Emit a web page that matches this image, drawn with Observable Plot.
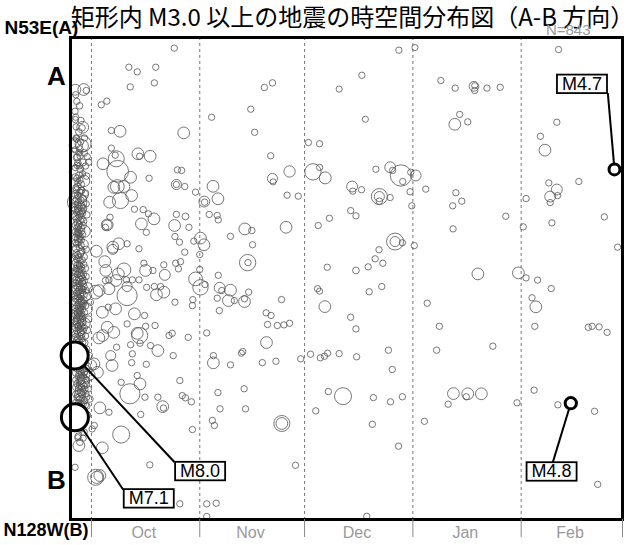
<!DOCTYPE html>
<html>
<head>
<meta charset="utf-8">
<script src="https://cdn.jsdelivr.net/npm/d3@7"></script>
<script src="https://cdn.jsdelivr.net/npm/@observablehq/plot@0.6"></script>
<style>
  html, body { margin: 0; padding: 0; background: #fff; }
</style>
</head>
<body>
<div id="chart"></div>
<script>
// Time axis: days counted from 2003-09-25 00:00
const startMs = Date.UTC(2003, 8, 25);
const toDate = d => new Date(startMs + d * 864e5);

const monthStarts = ["2003-10-01", "2003-11-01", "2003-12-01", "2004-01-01", "2004-02-01", "2004-03-01"];
const monthMids = ["2003-10-16", "2003-11-15T12:00Z", "2003-12-16", "2004-01-16", "2004-02-15"];
const monthLabels = ["Oct", "Nov", "Dec", "Jan", "Feb"];

const title = "矩形内 M3.0 以上の地震の時空間分布図（A-B 方向）";
const countLabel = "N=843";
const endA = "N53E(A)", endB = "N128W(B)";

// Events: [days since 2003-09-25, distance from A (km), magnitude]
const quakes = [
  // Nov – Feb scatter
  [94.0, 6.3, 3.2], [98.6, 5.0, 3.1], [83.4, 18.8, 3.2], [76.9, 25.7, 3.1], [57.8, 22.6, 3.3],
  [55.5, 24.9, 3.2], [40.4, 39.7, 3.2], [51.6, 35.7, 3.2], [84.4, 40.7, 3.1], [52.7, 47.2, 3.2],
  [68.1, 52.3, 3.2], [71.3, 52.9, 3.2], [57.3, 58.9, 3.2], [62.7, 66.7, 4.8], [57.8, 70.2, 4.5],
  [58.0, 71.9, 3.1], [69.4, 66.9, 5.75], [72.9, 69.9, 4.95], [71.3, 64.7, 3.2], [40.8, 74.1, 4.9],
  [42.2, 80.3, 4.9], [38.3, 81.7, 4.7], [38.4, 82.0, 3.3], [35.8, 77.0, 3.2], [62.0, 78.5, 3.2],
  [65.2, 79.0, 3.2], [80.6, 74.2, 4.7], [80.8, 76.5, 3.2], [83.3, 75.8, 3.2], [87.4, 65.6, 3.2],
  [91.5, 64.6, 4.7], [92.2, 66.2, 3.2], [94.6, 68.7, 6.45], [95.1, 71.7, 3.2], [98.8, 68.7, 4.7],
  [97.2, 76.8, 3.2], [97.7, 83.8, 3.2], [88.4, 79.2, 5.7], [88.4, 79.2, 4.5], [88.4, 81.5, 3.3],
  [91.5, 79.7, 3.2], [80.2, 86.2, 3.2], [81.7, 88.8, 3.2], [74.1, 90.0, 3.2], [70.9, 93.6, 3.2],
  [39.7, 88.1, 3.2], [42.0, 88.6, 3.2], [42.3, 90.8, 3.2], [49.9, 95.3, 4.9], [51.9, 96.1, 3.3],
  [61.7, 94.5, 4.9], [45.8, 99.0, 3.2], [37.2, 99.9, 4.9], [38.2, 103.2, 4.9], [37.0, 108.1, 3.2],
  [52.1, 103.2, 3.2], [50.7, 112.1, 5.75], [50.8, 112.1, 3.2], [37.0, 115.5, 3.2], [42.3, 118.4, 3.2],
  [92.9, 101.6, 5.85], [92.9, 101.6, 4.5], [95.0, 102.2, 3.2], [98.4, 103.6, 3.2], [88.3, 105.7, 3.2],
  [87.2, 110.2, 3.2], [89.4, 112.4, 3.2], [85.2, 114.2, 3.2], [81.7, 116.0, 3.4], [73.5, 114.4, 3.2],
  [37.2, 124.4, 5.6], [38.5, 123.0, 3.2], [42.7, 124.6, 4.7], [43.3, 126.0, 3.2], [45.8, 125.8, 4.9],
  [45.2, 131.0, 4.9], [46.9, 131.0, 3.2], [49.8, 131.5, 4.9], [49.8, 130.1, 3.2], [51.0, 126.8, 3.2],
  [42.0, 129.8, 3.2], [42.6, 136.0, 3.2], [60.4, 130.5, 3.2], [56.0, 137.1, 3.2], [57.4, 138.4, 3.2],
  [56.4, 142.9, 3.2], [59.2, 143.4, 3.2], [61.1, 143.1, 3.2], [62.7, 142.3, 3.2], [39.0, 147.1, 3.2],
  [56.1, 151.9, 4.9], [40.9, 158.4, 3.2], [40.9, 162.0, 4.9], [45.8, 163.0, 3.2], [49.3, 156.4, 3.2],
  [48.9, 157.2, 3.1], [54.9, 161.9, 3.2], [58.8, 161.2, 3.2], [65.9, 160.0, 3.2], [68.7, 157.7, 3.2],
  [71.5, 159.5, 3.2], [72.7, 158.7, 3.2], [73.6, 157.2, 3.2], [76.9, 157.4, 3.2], [81.9, 159.0, 3.2],
  [70.7, 125.1, 3.2], [71.3, 126.3, 3.1], [72.8, 134.0, 4.9], [85.5, 126.6, 3.2], [89.1, 124.0, 3.2],
  [80.2, 139.3, 3.2], [81.7, 145.1, 3.2], [91.0, 155.7, 3.2], [92.1, 165.3, 3.2], [42.2, 176.8, 3.2],
  [49.7, 174.9, 3.2], [42.8, 184.9, 3.2], [50.1, 184.9, 3.2], [40.6, 190.7, 3.2], [41.2, 193.2, 3.2],
  [60.5, 192.2, 5.7], [60.5, 192.2, 4.9], [73.8, 176.3, 3.2], [78.0, 178.6, 5.85], [70.2, 185.9, 3.2],
  [86.7, 179.3, 3.2], [91.6, 181.4, 3.2], [95.0, 178.9, 3.2], [86.4, 192.6, 3.2], [93.9, 203.5, 3.2],
  [64.4, 213.0, 3.2], [39.0, 232.2, 3.2], [41.7, 231.9, 3.2], [39.0, 238.5, 3.2], [84.8, 238.4, 3.2],
  [139.7, 6.0, 3.2], [106.0, 21.4, 3.2], [110.1, 25.2, 3.2], [115.5, 24.3, 4.4], [115.7, 24.0, 3.1],
  [115.7, 26.4, 3.2], [119.2, 25.2, 3.2], [123.0, 24.8, 3.2], [111.4, 38.3, 3.2], [110.0, 43.2, 4.9],
  [113.7, 42.0, 3.2], [139.2, 42.2, 3.2], [134.5, 49.2, 3.2], [135.8, 56.1, 4.9], [97.4, 67.1, 3.2],
  [101.7, 75.5, 3.2], [110.3, 77.3, 3.2], [112.0, 81.5, 3.2], [109.4, 83.8, 3.2], [124.6, 89.0, 3.2],
  [109.5, 95.3, 3.2], [130.4, 80.2, 3.2], [136.9, 72.4, 3.2], [139.2, 75.7, 4.7], [137.3, 79.2, 4.7],
  [139.4, 78.7, 3.2], [137.3, 82.2, 3.2], [145.5, 71.7, 3.2], [152.8, 89.3, 3.2], [137.8, 92.3, 3.2],
  [129.6, 94.3, 3.2], [156.6, 104.4, 3.2], [116.6, 117.7, 4.9], [128.2, 117.2, 4.9], [130.4, 119.7, 3.2],
  [133.7, 120.8, 3.2], [137.6, 125.0, 3.2], [102.1, 132.3, 3.2], [132.1, 129.6, 3.2], [133.2, 134.1, 4.9],
  [132.9, 143.8, 3.2], [105.6, 143.8, 3.2], [148.2, 144.3, 3.2], [149.3, 143.8, 3.2], [151.3, 144.1, 3.2],
  [153.6, 146.8, 3.2], [120.9, 153.7, 3.2], [104.8, 155.7, 3.2], [109.6, 177.3, 4.9], [113.7, 177.4, 4.9],
  [113.3, 178.9, 3.2], [117.6, 177.4, 4.9], [108.1, 182.6, 3.2], [101.3, 191.1, 3.2], [127.8, 181.9, 3.2],
  [132.7, 175.6, 3.2], [139.5, 182.9, 3.2], [150.0, 186.1, 3.2], [150.9, 222.5, 3.2],
  // October, away from the main column
  [29.7, 5.3, 3.2], [16.7, 14.8, 3.2], [19.1, 17.1, 3.2], [24.4, 14.8, 3.2], [24.0, 22.6, 3.2],
  [17.1, 24.6, 3.2], [1.4, 26.0, 4.7], [3.8, 25.9, 4.9], [4.5, 26.4, 3.2], [8.8, 33.5, 3.2],
  [10.4, 31.7, 3.2], [1.3, 36.7, 3.2], [1.5, 39.7, 3.2], [3.5, 44.7, 4.9], [11.7, 46.3, 3.2],
  [14.2, 46.7, 4.9], [32.4, 47.5, 4.9], [1.3, 52.6, 4.7], [3.6, 52.9, 5.7], [1.6, 50.0, 3.2],
  [4.0, 50.0, 3.2], [2.7, 55.4, 3.2], [11.7, 55.1, 3.2], [19.3, 57.9, 4.9], [19.8, 59.1, 3.2],
  [22.8, 59.1, 4.9], [13.1, 60.4, 5.7], [9.3, 62.9, 4.9], [13.5, 66.6, 6.5], [12.8, 58.6, 3.2],
  [17.2, 69.6, 4.9], [22.5, 70.1, 3.2], [30.6, 65.9, 3.2], [31.8, 66.2, 3.2], [30.3, 73.2, 4.5],
  [30.3, 73.2, 3.2], [13.4, 74.2, 5.3], [1.9, 59.6, 3.2], [1.9, 63.7, 3.2], [4.8, 59.3, 3.2],
  [5.2, 62.1, 3.2], [32.7, 74.2, 3.2], [12.4, 74.6, 4.9], [15.3, 74.2, 4.9], [14.3, 81.2, 5.7],
  [17.5, 78.7, 4.9], [18.3, 85.5, 3.2], [20.8, 85.7, 3.2], [11.2, 82.0, 4.9], [10.5, 93.3, 4.9],
  [10.5, 93.3, 4.4], [10.0, 94.5, 3.2], [11.3, 89.5, 3.2], [20.3, 92.8, 4.9], [23.9, 90.3, 4.9],
  [22.3, 87.8, 3.2], [21.7, 97.0, 3.2], [29.8, 93.6, 4.9], [30.3, 88.1, 3.2], [32.9, 89.1, 3.4],
  [33.9, 94.5, 3.2], [29.9, 99.1, 3.2], [31.2, 101.9, 3.2], [35.3, 101.4, 3.2], [32.7, 106.9, 3.2],
  [12.1, 104.4, 4.9], [12.1, 105.5, 4.5], [13.8, 102.7, 4.9], [7.4, 106.4, 4.9], [9.8, 111.6, 4.9],
  [16.2, 102.7, 3.2], [19.6, 105.2, 3.2], [21.0, 112.4, 3.2], [21.5, 116.0, 4.9], [23.6, 116.0, 3.2],
  [15.3, 115.7, 5.3], [13.7, 117.7, 4.9], [26.7, 113.2, 3.2], [30.1, 112.4, 3.2], [31.5, 111.6, 3.2],
  [30.9, 115.2, 3.2], [27.0, 118.2, 4.7], [19.6, 120.7, 3.2], [17.7, 120.7, 3.2], [16.0, 120.7, 3.2],
  [11.0, 120.7, 3.2], [35.8, 120.2, 5.3], [21.8, 124.4, 3.2], [24.0, 124.0, 3.2], [25.8, 124.0, 3.2],
  [24.6, 128.1, 4.9], [26.7, 126.8, 4.9], [16.2, 124.0, 4.5], [16.2, 128.5, 6.3], [35.0, 130.5, 3.2],
  [34.9, 133.5, 3.2], [29.9, 131.8, 3.2], [10.0, 121.0, 3.2], [11.0, 125.1, 4.9], [7.2, 126.8, 5.3],
  [10.8, 134.3, 3.2], [9.1, 136.8, 4.9], [12.9, 135.1, 4.9], [18.3, 137.6, 4.9], [21.2, 138.4, 3.2],
  [16.2, 142.6, 3.2], [21.5, 143.8, 3.2], [24.2, 143.4, 3.2], [29.1, 147.3, 3.2], [19.1, 147.3, 4.9],
  [19.8, 148.4, 5.7], [12.4, 146.8, 4.9], [10.5, 144.3, 4.9], [33.7, 149.3, 3.2], [8.1, 149.6, 4.9],
  [17.2, 153.0, 3.2], [19.9, 152.2, 3.2], [22.9, 153.4, 3.2], [25.0, 155.9, 4.9], [28.2, 148.4, 3.2],
  [13.2, 154.2, 3.2], [11.5, 158.4, 4.5], [17.7, 157.5, 3.2], [29.4, 158.4, 3.2], [11.9, 163.3, 4.9],
  [17.5, 161.9, 3.2], [21.7, 162.7, 3.2], [6.7, 162.5, 4.9], [19.1, 168.3, 3.2], [19.9, 172.5, 4.9],
  [14.5, 171.7, 3.2], [17.0, 177.4, 6.3], [31.3, 170.8, 3.2], [32.0, 178.3, 3.2], [32.9, 179.4, 3.2],
  [21.3, 179.1, 3.2], [25.0, 179.1, 3.2], [26.4, 183.8, 4.9], [26.6, 184.5, 3.2], [34.6, 181.4, 3.2],
  [20.1, 187.7, 3.2], [11.0, 186.6, 3.2], [8.4, 184.4, 4.9], [34.9, 195.2, 3.2], [14.5, 197.7, 5.85],
  [9.1, 204.3, 4.9], [2.4, 203.2, 4.9], [2.1, 199.3, 3.2], [6.2, 194.9, 3.2], [7.2, 219.0, 5.7],
  [7.5, 219.0, 5.0], [8.4, 218.1, 4.9], [1.3, 214.0, 3.2], [22.7, 212.8, 3.2], [31.3, 232.2, 3.2],
  [8.2, 126.0, 4.9], [10.1, 116.0, 4.9], [13.0, 121.0, 4.9], [9.2, 148.4, 4.9], [7.7, 166.7, 4.9],
  [5.8, 163.3, 4.9], [6.8, 193.2, 3.2],
  // Aftershock column, first days after the M8.0 shock
  [1.75, 50.5, 3.4], [1.5, 53.8, 5.2], [3.3, 54.0, 5.1], [2.45, 57.3, 3.3], [1.8, 59.8, 3.6],
  [2.75, 59.0, 3.2], [2.1, 62.4, 3.3], [3.55, 62.2, 3.5], [2.55, 63.9, 3.1],
  [1.6, 67.0, 5.3], [2.45, 68.6, 3.4], [3.45, 67.8, 3.2], [2.15, 72.4, 3.3], [3.0, 73.1, 3.6],
  [1.55, 74.8, 3.2], [3.9, 71.4, 4.8], [1.9, 70.2, 3.5], [3.1, 76.0, 3.2],
  [1.6, 75.9, 3.3], [2.05, 74.3, 3.5], [2.65, 77.0, 3.2], [3.15, 76.2, 3.4], [1.8, 80.5, 3.6],
  [2.35, 79.4, 3.2], [3.0, 81.0, 3.3], [3.65, 80.3, 3.5], [1.5, 83.3, 3.2], [2.05, 83.0, 3.4],
  [2.55, 84.3, 3.1], [3.1, 83.6, 3.6], [3.75, 85.0, 3.3], [1.8, 87.0, 3.3], [2.4, 86.6, 3.5],
  [2.85, 88.0, 3.2], [3.4, 87.5, 3.4], [1.6, 90.3, 3.2], [2.2, 89.7, 3.3], [2.75, 91.0, 3.5],
  [3.3, 90.6, 3.2], [1.9, 92.3, 3.4], [2.55, 92.8, 3.2], [1.9, 82.0, 6.2], [2.8, 85.5, 4.9],
  [3.55, 78.3, 4.7],
  [1.9, 94.8, 3.3], [2.45, 95.9, 3.2], [3.0, 94.8, 3.5], [1.8, 98.0, 3.2], [2.35, 97.6, 3.4],
  [2.8, 99.2, 3.2], [3.4, 98.0, 3.3], [2.1, 100.3, 3.6], [2.65, 100.6, 3.2], [4.0, 96.5, 4.9],
  [1.85, 102.8, 3.3], [2.55, 104.5, 3.2], [2.1, 106.6, 5.2], [2.8, 107.6, 3.4], [1.6, 107.2, 3.2],
  [3.65, 103.0, 4.5],
  [1.85, 110.4, 3.3], [2.35, 109.6, 3.5], [2.8, 111.4, 3.2], [3.35, 110.8, 3.3], [1.95, 113.3, 3.4],
  [2.45, 112.8, 3.2], [3.0, 114.3, 3.6], [1.6, 115.0, 3.2], [2.2, 115.5, 3.5], [2.7, 115.2, 3.3],
  [1.5, 117.4, 3.3], [1.95, 118.0, 3.2], [2.5, 117.3, 3.5], [3.05, 118.6, 3.4], [3.7, 117.8, 3.2],
  [4.45, 119.0, 3.3], [1.7, 120.6, 3.6], [2.2, 121.0, 3.3], [2.75, 120.3, 3.2], [3.35, 121.6, 3.4],
  [4.0, 121.0, 3.2], [1.5, 123.6, 3.2], [2.05, 124.4, 3.5], [2.55, 123.8, 3.3], [3.15, 124.8, 3.2],
  [3.75, 124.0, 3.6], [1.75, 127.2, 3.3], [2.25, 126.6, 3.2], [2.8, 127.8, 3.4], [3.4, 127.0, 3.3],
  [4.3, 128.3, 4.8], [1.55, 130.2, 3.4], [2.1, 130.9, 3.2], [2.65, 130.0, 3.3], [3.25, 131.3, 3.5],
  [3.85, 130.6, 3.2], [1.8, 133.6, 3.2], [2.35, 133.0, 3.6], [2.95, 134.2, 3.3], [3.55, 133.4, 3.2],
  [1.5, 136.4, 3.3], [2.05, 137.1, 3.4], [2.55, 136.3, 3.2], [3.15, 137.6, 3.3], [3.9, 136.9, 3.5],
  [1.75, 139.8, 3.2], [2.3, 139.2, 3.5], [2.85, 140.5, 3.3], [3.45, 139.9, 3.2], [1.55, 142.8, 3.4],
  [2.1, 143.5, 3.2], [2.65, 142.6, 3.3], [3.25, 143.9, 3.4], [4.15, 142.3, 4.6], [1.8, 146.0, 3.3],
  [2.4, 145.4, 3.2], [2.95, 146.7, 3.5], [3.6, 146.1, 3.2], [1.5, 149.0, 3.2], [2.1, 149.6, 3.4],
  [2.7, 148.8, 3.3], [3.3, 150.0, 3.2], [1.8, 118.8, 5.5], [1.85, 132.4, 5.6], [2.5, 141.5, 5.0],
  [1.95, 125.5, 4.7], [4.9, 124.6, 4.5], [4.6, 135.0, 4.9], [5.2, 140.2, 3.3], [4.8, 145.7, 3.4],
  [5.7, 131.8, 3.2],
  [4.1, 152.0, 3.3], [4.6, 155.2, 3.4], [4.25, 160.8, 3.2], [4.8, 163.6, 3.5], [4.0, 166.4, 3.3],
  [5.4, 158.3, 3.2],
  [1.95, 165.0, 3.3], [2.65, 166.2, 3.4], [3.3, 165.4, 3.2], [3.9, 166.8, 3.5], [2.2, 168.8, 3.2],
  [2.85, 169.6, 3.3], [3.55, 169.0, 3.6], [4.25, 170.2, 3.2], [1.9, 172.4, 3.4], [2.55, 173.2, 3.2],
  [3.25, 172.3, 3.3], [3.9, 173.6, 3.2], [4.55, 172.8, 3.4], [2.2, 176.0, 3.3], [2.95, 176.8, 3.5],
  [3.6, 176.1, 3.2], [4.35, 177.3, 3.3], [1.9, 179.4, 3.2], [2.65, 180.3, 3.4], [3.3, 179.6, 3.2],
  [4.0, 180.8, 3.3], [2.45, 183.2, 3.3], [3.1, 182.6, 3.2], [3.65, 170.9, 5.0], [2.75, 178.0, 4.8],
  [5.1, 175.0, 3.2], [5.55, 180.0, 3.4], [5.4, 168.0, 4.8], [4.7, 183.5, 3.2],
  [4.0, 186.5, 3.3], [4.35, 191.0, 3.2], [3.9, 196.5, 3.3], [3.35, 189.0, 3.5], [3.6, 199.5, 3.2],
  [1.6, 44.5, 3.2], [2.4, 47.0, 3.3], [3.0, 41.3, 3.2], [1.8, 31.8, 3.2],
  [1.35, 56.0, 3.3], [2.9, 52.0, 3.2], [3.9, 57.5, 3.4], [1.4, 64.8, 3.2], [2.8, 65.5, 3.5],
  [4.3, 64.0, 3.2], [1.35, 69.5, 3.4], [2.7, 71.0, 3.2], [4.6, 69.0, 3.3], [1.35, 78.0, 3.5],
  [2.0, 78.5, 3.2], [4.3, 77.5, 3.3], [1.35, 81.5, 3.3], [2.3, 82.2, 3.6], [4.5, 82.8, 3.2],
  [1.35, 85.7, 3.4], [2.2, 85.0, 3.2], [3.2, 86.2, 3.3], [4.7, 88.3, 3.3], [1.35, 89.0, 3.5],
  [2.5, 88.8, 3.3], [3.8, 91.5, 3.2], [1.4, 93.5, 3.3], [2.25, 94.0, 3.2], [3.6, 93.6, 3.4],
  [1.35, 96.8, 3.2], [2.15, 96.9, 3.5], [3.2, 96.4, 3.2], [1.5, 99.5, 3.4], [2.5, 98.3, 3.3],
  [3.1, 100.9, 3.2], [1.4, 102.0, 3.2], [2.3, 101.8, 3.4], [3.0, 103.4, 3.3], [1.45, 105.0, 3.5],
  [3.3, 106.2, 3.2], [4.5, 105.5, 3.3], [1.4, 108.8, 3.3], [2.1, 108.2, 3.2], [3.9, 109.2, 3.4],
  [1.4, 112.0, 3.2], [2.6, 113.6, 3.3], [3.8, 113.0, 3.2], [1.35, 116.3, 3.4], [3.3, 115.9, 3.2],
  [4.2, 114.9, 3.5], [1.35, 119.3, 3.3], [2.3, 119.6, 3.4], [3.4, 119.8, 3.2], [1.35, 122.2, 3.2],
  [2.45, 122.4, 3.3], [3.6, 122.6, 3.3], [1.35, 125.2, 3.4], [2.4, 125.6, 3.2], [3.45, 125.6, 3.4],
  [4.5, 126.0, 3.2], [1.35, 128.6, 3.2], [2.0, 128.8, 3.3], [3.0, 129.0, 3.2], [3.9, 128.0, 3.3],
  [1.35, 131.8, 3.5], [2.4, 132.0, 3.3], [2.95, 131.7, 3.2], [3.6, 132.3, 3.4], [1.35, 134.8, 3.3],
  [2.15, 135.2, 3.2], [2.75, 135.6, 3.4], [3.4, 135.4, 3.2], [4.3, 133.6, 3.3], [1.35, 138.2, 3.2],
  [1.95, 138.6, 3.3], [2.6, 138.4, 3.5], [3.2, 139.0, 3.2], [1.35, 141.3, 3.4], [1.9, 141.0, 3.2],
  [2.9, 141.8, 3.3], [3.6, 142.0, 3.2], [1.35, 144.5, 3.2], [2.3, 144.0, 3.3], [2.8, 144.8, 3.2],
  [3.9, 144.6, 3.4], [1.35, 147.6, 3.3], [2.1, 147.5, 3.2], [3.2, 148.0, 3.3], [4.3, 148.6, 3.2],
  [1.7, 151.0, 3.3], [2.5, 151.2, 3.2], [3.5, 151.8, 3.3], [2.8, 153.4, 3.4], [1.5, 163.0, 3.3],
  [2.3, 163.7, 3.2], [3.5, 163.2, 3.3], [4.5, 164.8, 3.2], [1.5, 167.0, 3.4], [2.45, 167.6, 3.2],
  [3.1, 167.5, 3.3], [4.6, 167.9, 3.3], [1.5, 170.5, 3.2], [2.45, 170.9, 3.3], [3.1, 171.0, 3.4],
  [4.7, 170.6, 3.2], [1.5, 174.2, 3.3], [2.3, 174.6, 3.2], [3.0, 174.4, 3.4], [4.1, 175.2, 3.3],
  [1.5, 177.6, 3.2], [2.45, 178.9, 3.3], [3.2, 177.9, 3.2], [4.6, 179.0, 3.4], [1.5, 181.8, 3.3],
  [2.3, 182.0, 3.2], [3.6, 182.5, 3.3], [4.3, 183.0, 3.2], [1.6, 185.0, 3.2], [2.9, 185.4, 3.3],
  [2.1, 187.0, 3.3], [3.0, 191.0, 3.2], [2.8, 195.0, 3.3], [2.2, 198.5, 3.2], [2.7, 201.5, 3.4],
  [3.3, 193.5, 3.2], [4.9, 188.0, 3.2], [1.5, 28.5, 3.2], [2.6, 34.0, 3.3], [1.4, 40.9, 3.2],
  [3.3, 45.0, 3.3]
];

// Labelled events and their callouts
const namedMag = [8.0, 7.1, 4.7, 4.8];
const namedDay = [1.2, 1.26, 155.7, 143.2];
const namedKm = [158.4, 189.1, 65.7, 182.1];
const labelDay = [37.1, 22.4, 146.4, 137.7];
const labelKm = [216.0, 229.6, 23.2, 216.2];
const leaderDay = [29.8, 15.1, 153.8, 138.0];
const leaderKm = [211.5, 225.2, 27.7, 211.8];

const events = quakes.map(([day, km, mag]) => ({date: toDate(day), km, mag}));
const named = namedMag.map((mag, i) => ({
  mag,
  date: toDate(namedDay[i]), km: namedKm[i],
  labelDate: toDate(labelDay[i]), labelKm: labelKm[i],
  leaderDate: toDate(leaderDay[i]), leaderKm: leaderKm[i]
}));

const tickDates = monthStarts.map(s => new Date(s));
const gridDates = tickDates.slice(0, -1);
const midDates = monthMids.map(s => new Date(s));
const midLabel = new Map(midDates.map((d, i) => [+d, monthLabels[i]]));

const chart = Plot.plot({
  width: 631,
  height: 545,
  marginLeft: 70,
  marginRight: 9,
  marginTop: 37,
  marginBottom: 26,
  style: {fontFamily: "Liberation Sans, Arial, sans-serif", background: "white", overflow: "visible"},
  x: {type: "utc", domain: [toDate(0), new Date("2004-03-01")]},
  y: {domain: [0, 240], reverse: true, axis: null},
  r: {type: "pow", exponent: 3, domain: [3, 7.1], range: [3, 13.5], clamp: true},
  marks: [
    Plot.ruleX(gridDates, {stroke: "#777", strokeWidth: 1, strokeDasharray: "3,3"}),
    Plot.dot(events, {x: "date", y: "km", r: "mag", stroke: "#555", strokeWidth: 0.8, fill: "none"}),
    Plot.link(named, {x1: "date", y1: "km", x2: "leaderDate", y2: "leaderKm", stroke: "black", strokeWidth: 2}),
    Plot.dot(named, {x: "date", y: "km", r: "mag", stroke: "black", strokeWidth: 3, fill: "white"}),
    Plot.text(named, {
      x: "labelDate", y: "labelKm", text: d => "M" + d.mag.toFixed(1),
      fontSize: 18, fill: "black", className: "tag"
    }),
    Plot.frame({stroke: "black", strokeWidth: 3}),
    Plot.axisX({ticks: tickDates, tickSize: 18, tickFormat: () => "", color: "#888"}),
    Plot.axisX({ticks: midDates, tickSize: 0, tickPadding: 7, tickFormat: d => midLabel.get(+d),
      color: "#999", fontSize: 16}),
    Plot.text([title], {frameAnchor: "top", lineAnchor: "middle", text: d => d, dx: 6, dy: -19.5,
      fontSize: 24, fontFamily: "Noto Sans CJK JP", fill: "black"}),
    Plot.text([countLabel], {frameAnchor: "top-right", lineAnchor: "middle", text: d => d, textAnchor: "end",
      dx: -32, dy: -7, fontSize: 15, fill: "#999"}),
    Plot.text([endA], {frameAnchor: "top-left", lineAnchor: "middle", text: d => d, textAnchor: "start",
      dx: -66, dy: -10, fontSize: 19, fontWeight: "bold"}),
    Plot.text([endB], {frameAnchor: "bottom-left", lineAnchor: "middle", text: d => d, textAnchor: "start",
      dx: -67, dy: 11, fontSize: 18, fontWeight: "bold"}),
    Plot.text(["A"], {frameAnchor: "top-left", lineAnchor: "middle", text: d => d, dx: -23.5, dy: 39,
      fontSize: 26, fontWeight: "bold"}),
    Plot.text(["B"], {frameAnchor: "bottom-left", lineAnchor: "middle", text: d => d, dx: -23.5, dy: -39,
      fontSize: 26, fontWeight: "bold"})
  ]
});

document.getElementById("chart").append(chart);

// Boxed magnitude tags: white rectangles sized to each label
chart.querySelectorAll("g.tag text").forEach(t => {
  const b = t.getBBox();
  const rect = document.createElementNS("http://www.w3.org/2000/svg", "rect");
  const h = 18.5;
  rect.setAttribute("x", b.x - 5);
  rect.setAttribute("y", b.y + b.height / 2 - h / 2);
  rect.setAttribute("width", b.width + 10);
  rect.setAttribute("height", h);
  rect.setAttribute("fill", "white");
  rect.setAttribute("stroke", "black");
  rect.setAttribute("stroke-width", 1.8);
  if (t.getAttribute("transform")) rect.setAttribute("transform", t.getAttribute("transform"));
  t.parentNode.insertBefore(rect, t);
});
</script>
</body>
</html>
